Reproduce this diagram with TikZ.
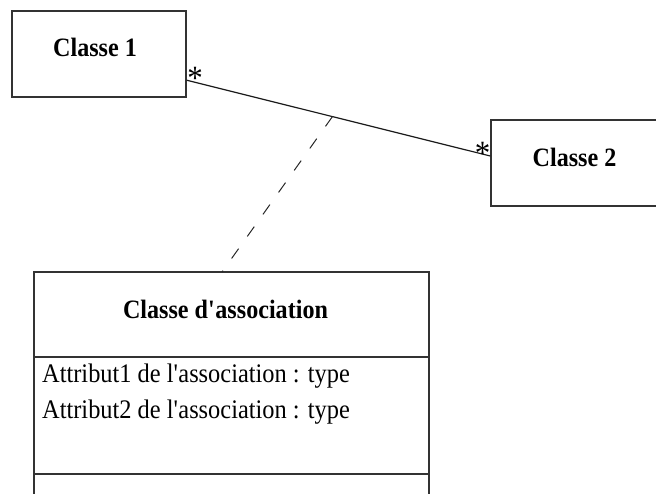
\documentclass[tikz,border=0pt]{standalone}
\usepackage{fontspec}
\setmainfont{Liberation Serif}[FakeStretch=0.91]
\usetikzlibrary{calc}
\begin{document}
\begin{tikzpicture}[x=1pt,y=-1pt,
  classbox/.style={draw=black!80,line width=1.4pt,minimum width=174pt,minimum height=86pt,inner sep=0pt},
  classname/.style={font=\fontsize{26.5}{30}\selectfont\bfseries,inner sep=0pt,anchor=base},
  attr/.style={font=\fontsize{26.8}{30}\selectfont,inner sep=0pt,anchor=base west},
  mult/.style={font=\fontsize{34}{36}\selectfont,inner sep=0pt,anchor=base},
  assoc/.style={line width=1.2pt,black!90},
  assocdash/.style={line width=1pt,black!85,dash pattern=on 12pt off 15pt},
  frame/.style={draw=black!80,line width=1.4pt}]
\useasboundingbox (0,0) rectangle (656,493);

% the two associated classes
\node[classbox] (c1) at (99,54) {};
\node[classname] (c1name) at (95,56.5) {Classe 1};
\node[classbox] (c2) at (578,163) {};
\node[classname] (c2name) at (574.5,166) {Classe 2};

% association between them
\coordinate (a1) at ($(c1.north east)!0.8!(c1.south east)$);
\coordinate (a2) at ($(c2.north west)!0.42!(c2.south west)$);
\draw[assoc] (a1) -- (a2);
\node[mult] (m1) at (195,89) {*};
\node[mult] (m2) at (482.5,164) {*};

% association class, open at the bottom
\coordinate (ac-tl) at (34,272);
\coordinate (ac-tr) at (429,272);
\coordinate (ac-bl) at (34,494);
\coordinate (ac-br) at (429,494);
\draw[frame] (ac-bl) -- (ac-tl) -- (ac-tr) -- (ac-br);
\coordinate (d1l) at (34,357);
\coordinate (d1r) at (429,357);
\coordinate (d2l) at (34,474);
\coordinate (d2r) at (429,474);
\draw[frame] (d1l) -- (d1r);
\draw[frame] (d2l) -- (d2r);
\node[classname] (acname) at (225.5,318) {Classe d\textquotesingle association};
\node[attr] (attr1) at (42,382) {Attribut1 de l\textquotesingle association : type};
\node[attr] (attr2) at (42,418) {Attribut2 de l\textquotesingle association : type};

% dashed link from the association to its class
\coordinate (amid) at ($(a1)!0.48!(a2)$);
\coordinate (actop) at ($(ac-tl)!0.476!(ac-tr)$);
\draw[assocdash] (amid) -- (actop);
\end{tikzpicture}
\end{document}
